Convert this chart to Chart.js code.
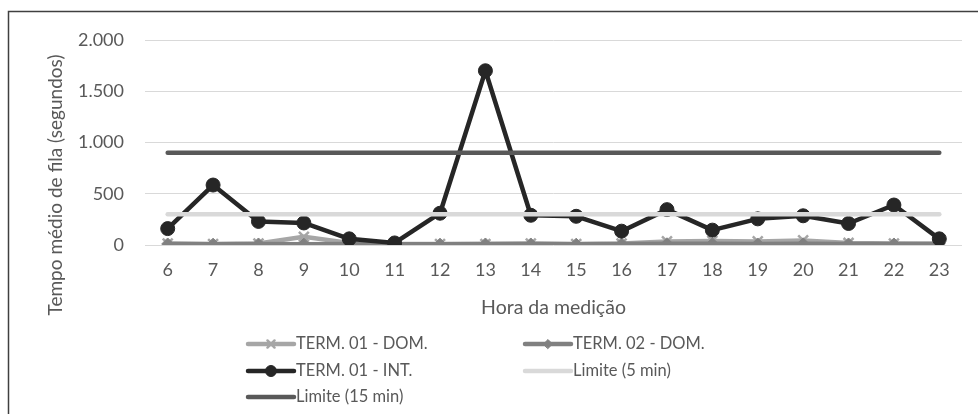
<!DOCTYPE html>
<html>
<head>
<meta charset="utf-8">
<script src="https://cdn.jsdelivr.net/npm/chart.js@4/dist/chart.umd.min.js"></script>
<style>
  html, body { margin: 0; padding: 0; background: #ffffff; }
  #wrap { position: relative; width: 978px; height: 414px; }
  canvas { display: block; }
</style>
</head>
<body>
<div id="wrap"><canvas id="c" width="978" height="414"></canvas></div>
<script>
const hours = ['6','7','8','9','10','11','12','13','14','15','16','17','18','19','20','21','22','23'];
const term01Dom = [15, 10, 15, 80, 20, 10, 10, 10, 15, 10, 15, 35, 40, 35, 45, 20, 15, 10];
const term02Dom = [10, 8, 10, 8, 10, 8, 8, 10, 10, 8, 10, 12, 12, 10, 12, 10, 10, 12];
const term01Int = [160, 585, 230, 215, 60, 20, 310, 1700, 290, 280, 135, 345, 145, 255, 285, 210, 390, 60];
const limite5 = [300, 300, 300, 300, 300, 300, 300, 300, 300, 300, 300, 300, 300, 300, 300, 300, 300, 300];
const limite15 = [900, 900, 900, 900, 900, 900, 900, 900, 900, 900, 900, 900, 900, 900, 900, 900, 900, 900];
const yTicks = [0, 500, 1000, 1500, 2000];
const yTitle = 'Tempo médio de fila (segundos)';
const xTitle = 'Hora da medição';

const FONT = 'Lato, "Open Sans", sans-serif';
const TXT = '#595959';

function fmt(v) { return String(v).replace(/\B(?=(\d{3})+(?!\d))/g, '.'); }

const frame = {
  id: 'frame',
  afterDraw(chart) {
    const ctx = chart.ctx;
    ctx.save();
    ctx.strokeStyle = '#404040';
    ctx.lineWidth = 1.5;
    ctx.beginPath();
    ctx.moveTo(978, 11.5);
    ctx.lineTo(8.5, 11.5);
    ctx.lineTo(8.5, 414);
    ctx.stroke();
    ctx.translate(56, 185);
    ctx.rotate(-Math.PI / 2);
    ctx.fillStyle = TXT;
    ctx.font = '19px ' + FONT;
    ctx.textAlign = 'center';
    ctx.textBaseline = 'middle';
    ctx.fillText(yTitle, 0, 0);
    ctx.restore();
  }
};

const legendPos = [
  {x: 248, y: 344}, {x: 525, y: 344},
  {x: 248, y: 371}, {x: 525, y: 371},
  {x: 248, y: 397}
];
const legendRadius = [5, 4.5, 5.5, 0, 0];

const customLegend = {
  id: 'customLegend',
  afterDraw(chart) {
    const ctx = chart.ctx;
    ctx.save();
    chart.data.datasets.forEach((ds, i) => {
      const p = legendPos[i];
      const x1 = p.x, x2 = p.x + 46;
      ctx.strokeStyle = ds.borderColor;
      ctx.lineWidth = ds.borderWidth;
      ctx.lineCap = 'round';
      ctx.beginPath();
      ctx.moveTo(x1, p.y);
      ctx.lineTo(x2, p.y);
      ctx.stroke();
      if (legendRadius[i] > 0) {
        ctx.fillStyle = ds.pointBackgroundColor;
        ctx.strokeStyle = ds.pointBorderColor;
        ctx.lineWidth = ds.pointBorderWidth;
        Chart.helpers.drawPoint(ctx, {
          pointStyle: ds.pointStyle,
          radius: legendRadius[i],
          rotation: 0,
          borderWidth: ds.pointBorderWidth
        }, (x1 + x2) / 2, p.y);
      }
      ctx.fillStyle = TXT;
      ctx.font = '16.5px ' + FONT;
      ctx.textAlign = 'left';
      ctx.textBaseline = 'middle';
      ctx.fillText(ds.label, x2 + 2, p.y);
    });
    ctx.restore();
  }
};

const commonLine = {
  tension: 0,
  borderCapStyle: 'round',
  borderJoinStyle: 'round',
  fill: false
};

new Chart(document.getElementById('c'), {
  type: 'line',
  data: {
    labels: hours,
    datasets: [
      Object.assign({}, commonLine, {
        label: 'TERM. 01 - DOM.',
        data: term01Dom,
        borderColor: '#A6A6A6',
        borderWidth: 4.5,
        pointStyle: 'crossRot',
        pointRadius: 7,
        pointBorderWidth: 2.5,
        pointBorderColor: '#A6A6A6',
        pointBackgroundColor: '#A6A6A6',
        order: 5
      }),
      Object.assign({}, commonLine, {
        label: 'TERM. 02 - DOM.',
        data: term02Dom,
        borderColor: '#808080',
        borderWidth: 4.5,
        pointStyle: 'rectRot',
        pointRadius: 6,
        pointBorderWidth: 1,
        pointBorderColor: '#808080',
        pointBackgroundColor: '#808080',
        order: 4
      }),
      Object.assign({}, commonLine, {
        label: 'TERM. 01 - INT.',
        data: term01Int,
        borderColor: '#262626',
        borderWidth: 4.5,
        pointStyle: 'circle',
        pointRadius: 7,
        pointBorderWidth: 1,
        pointBorderColor: '#262626',
        pointBackgroundColor: '#262626',
        order: 3
      }),
      Object.assign({}, commonLine, {
        label: 'Limite (5 min)',
        data: limite5,
        borderColor: '#D9D9D9',
        borderWidth: 4.5,
        pointStyle: 'circle',
        pointRadius: 0,
        pointBorderWidth: 0,
        pointBorderColor: '#D9D9D9',
        pointBackgroundColor: '#D9D9D9',
        order: 2
      }),
      Object.assign({}, commonLine, {
        label: 'Limite (15 min)',
        data: limite15,
        borderColor: '#595959',
        borderWidth: 4.5,
        pointStyle: 'circle',
        pointRadius: 0,
        pointBorderWidth: 0,
        pointBorderColor: '#595959',
        pointBackgroundColor: '#595959',
        order: 1
      })
    ]
  },
  options: {
    responsive: false,
    animation: false,
    layout: { padding: { left: 47, right: 16, top: 40, bottom: 95 } },
    plugins: {
      legend: { display: false },
      tooltip: { enabled: false }
    },
    scales: {
      x: {
        type: 'category',
        offset: true,
        grid: { display: false, drawTicks: false },
        border: { display: false },
        ticks: {
          color: TXT,
          font: { family: FONT, size: 18 },
          padding: 14,
          maxRotation: 0,
          autoSkip: false
        },
        title: {
          display: true,
          text: xTitle,
          color: TXT,
          font: { family: FONT, size: 19.5 },
          padding: { top: 0, bottom: 0 }
        },
        afterFit(scale) { scale.height = 74; }
      },
      y: {
        min: 0,
        max: 2000,
        afterBuildTicks(scale) { scale.ticks = yTicks.map(v => ({ value: v })); },
        grid: { color: '#D9D9D9', lineWidth: 1, drawTicks: false },
        border: { display: false },
        ticks: {
          color: TXT,
          font: { family: FONT, size: 18 },
          padding: 21,
          callback: (v) => fmt(v)
        },
        title: { display: false },
        afterFit(scale) { scale.width = 98; }
      }
    }
  },
  plugins: [frame, customLegend]
});
</script>
</body>
</html>
